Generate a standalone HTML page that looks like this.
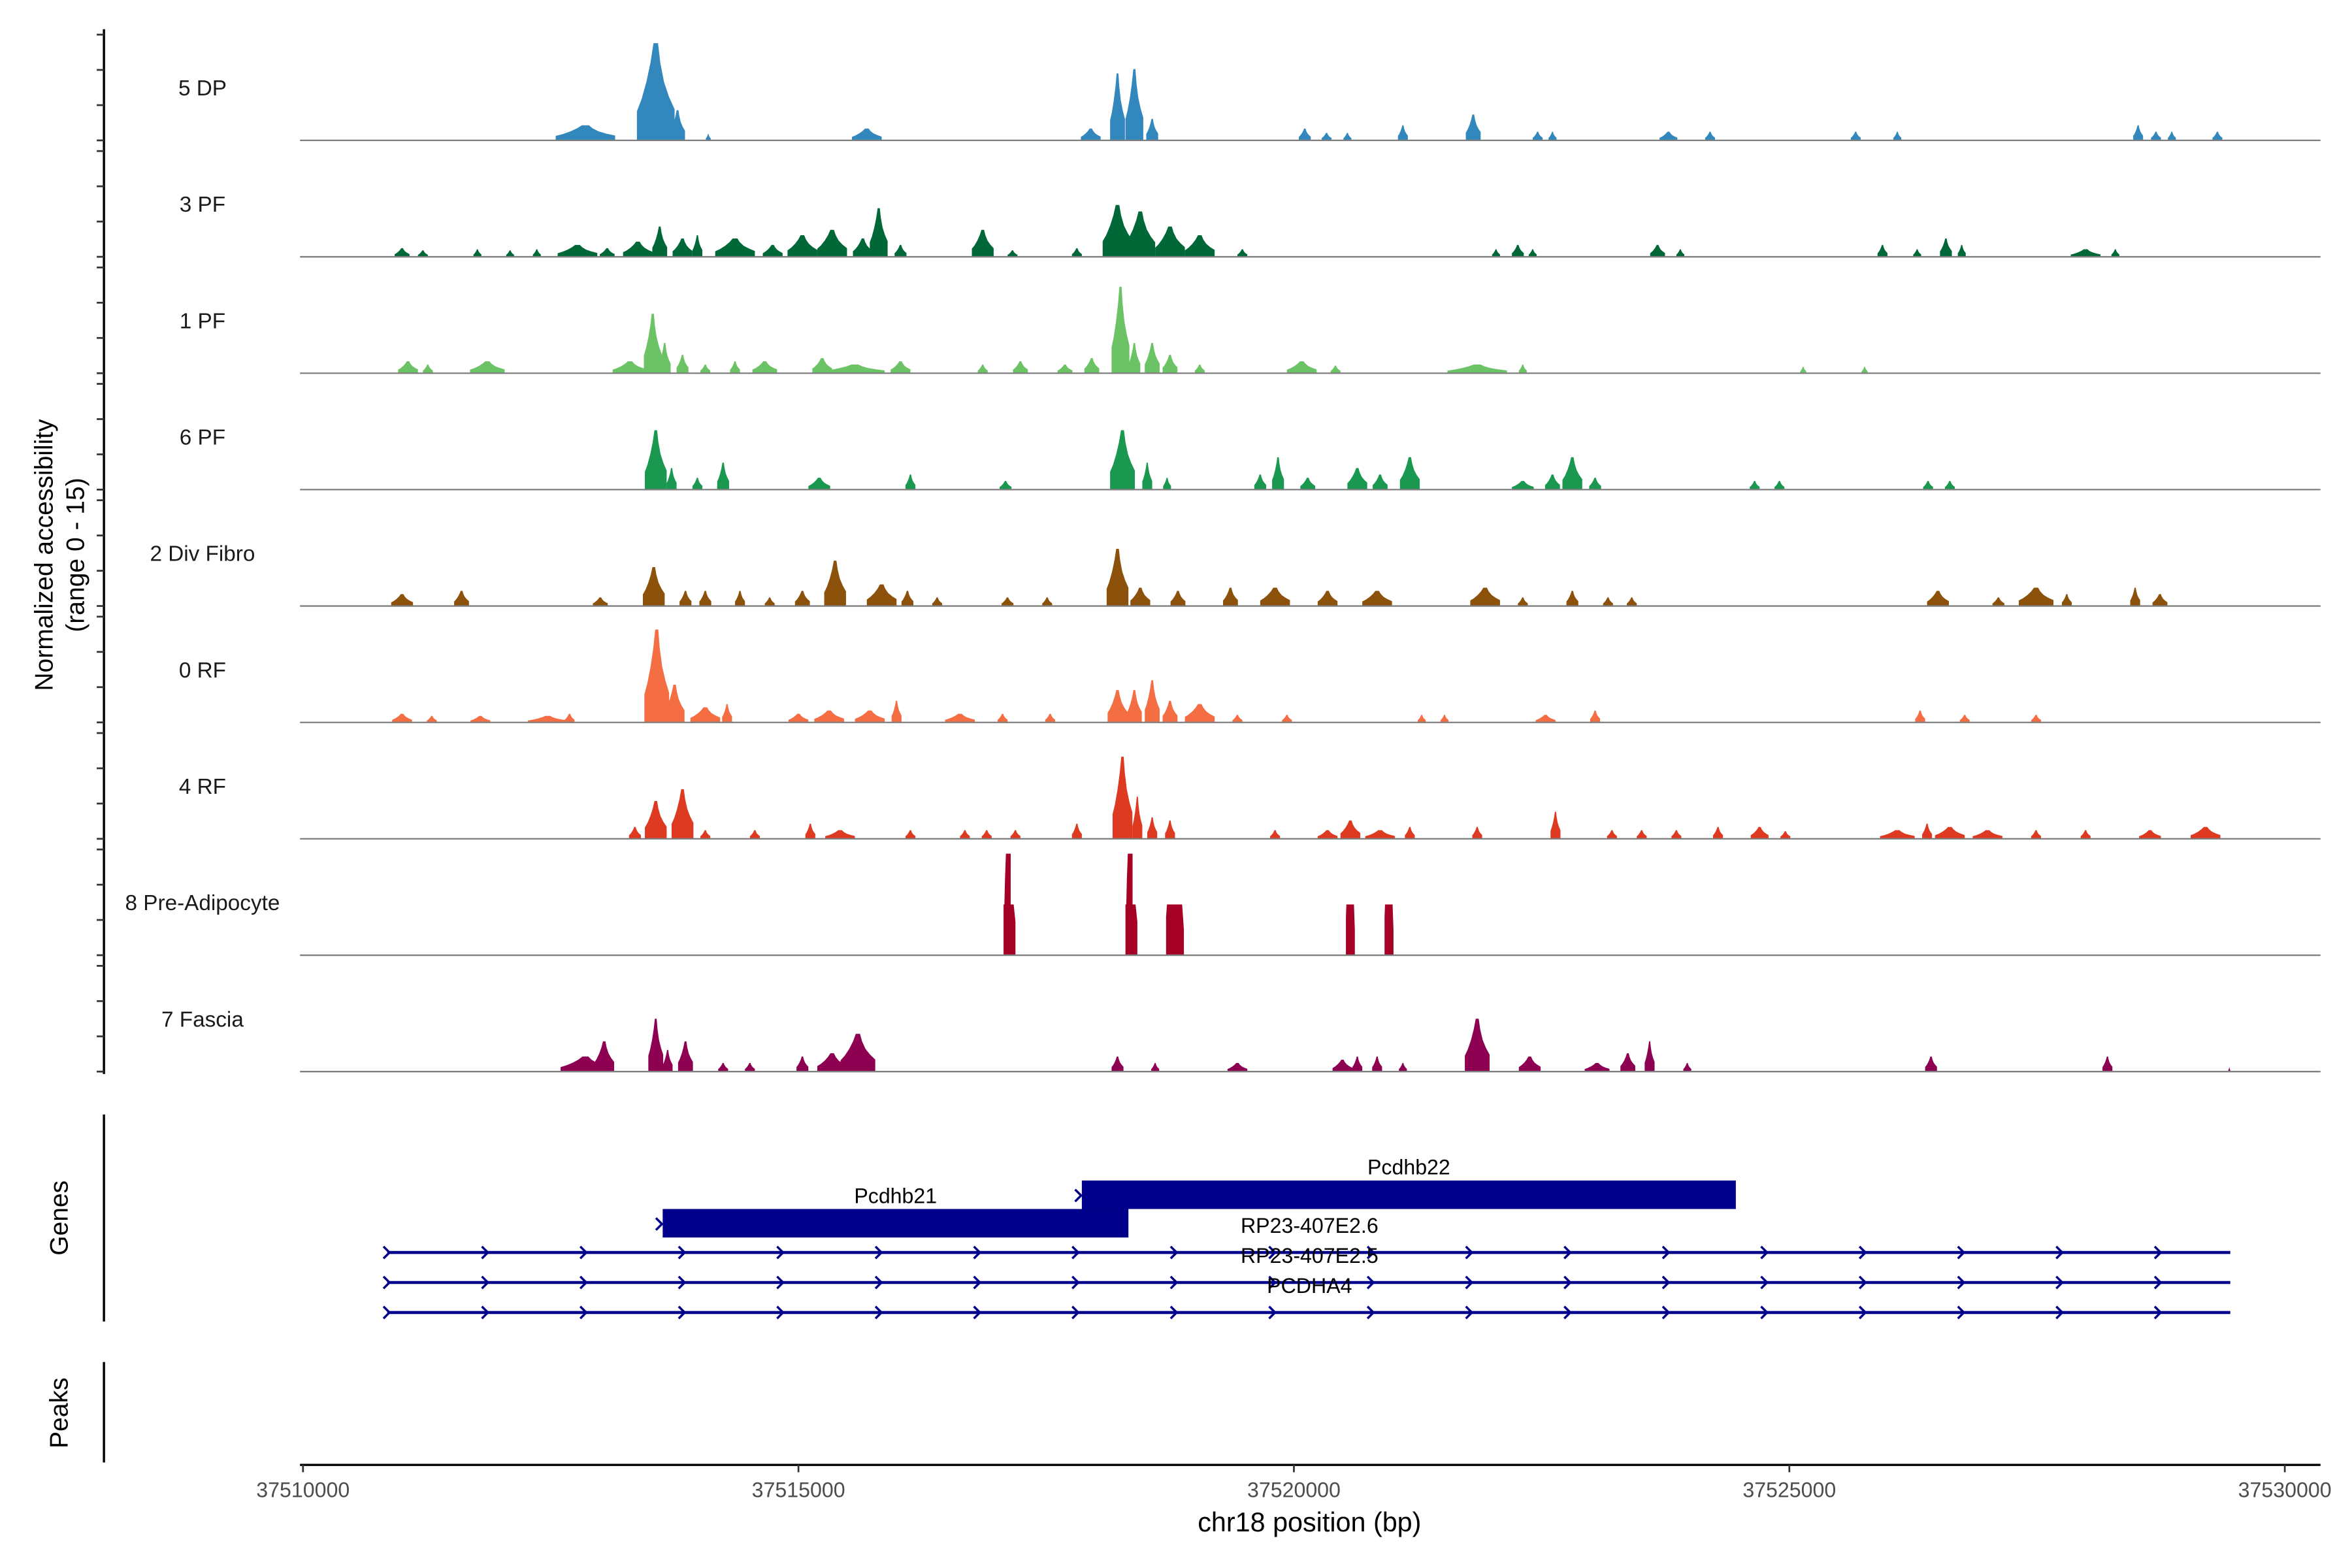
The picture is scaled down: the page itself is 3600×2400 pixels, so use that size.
<!DOCTYPE html>
<html><head><meta charset="utf-8"><style>
html,body{margin:0;padding:0;background:#fff;}
svg{display:block;font-family:"Liberation Sans",Arial,sans-serif;}
</style></head><body>
<svg id="chart" width="3600" height="2400" viewBox="0 0 1568 1045.33" xmlns="http://www.w3.org/2000/svg">
<g id="tracks"></g>
<g id="axes"></g>
<g id="genes"></g>
</svg>
<script>
// ---- data ----
const trackNames = ["5 DP","3 PF","1 PF","6 PF","2 Div Fibro","0 RF","4 RF","8 Pre-Adipocyte","7 Fascia"];
const trackColors = ["#3288bd","#006837","#6cc366","#1a9850","#8c510a","#f46d43","#de3a22","#a50026","#8e0152"];
// peaks: [offset kb from 37510000, height fraction of track, width kb]
const peaks5DP = [[2.85,.14,.6],[3.56,.9,.38],[3.78,.28,.15],[4.09,.06,.05],[5.69,.11,.3],[7.95,.11,.2],[8.22,.62,.15],[8.39,.66,.18],[8.57,.2,.12],[10.11,.11,.12],[10.33,.07,.1],[10.54,.07,.08],[11.10,.14,.1],[11.81,.24,.15],[12.46,.08,.1],[12.61,.08,.08],[13.78,.08,.18],[14.2,.08,.1],[15.67,.08,.1],[16.09,.08,.08],[18.52,.14,.1],[18.70,.08,.1],[18.86,.08,.08],[19.32,.08,.1]];
const peaks3PF = [[1.0,.08,.15],[1.21,.06,.1],[1.76,.07,.08],[2.09,.06,.08],[2.36,.07,.08],[2.77,.11,.4],[3.07,.08,.15],[3.38,.14,.3],[3.6,.28,.15],[3.83,.17,.2],[3.98,.2,.1],[4.36,.17,.4],[4.74,.11,.2],[5.04,.2,.3],[5.34,.25,.3],[5.65,.17,.2],[5.81,.45,.18],[6.03,.11,.12],[6.86,.25,.22],[7.16,.06,.1],[7.81,.08,.1],[8.22,.48,.3],[8.45,.42,.3],[8.75,.28,.3],[9.05,.2,.3],[9.48,.07,.1],[12.04,.07,.08],[12.26,.11,.12],[12.41,.07,.08],[13.67,.11,.15],[13.9,.07,.08],[15.94,.11,.1],[16.29,.07,.08],[16.58,.17,.12],[16.74,.11,.08],[17.99,.07,.3],[18.29,.07,.08]];
const peaks1PF = [[1.06,.11,.2],[1.26,.08,.1],[1.86,.11,.35],[3.3,.11,.35],[3.53,.55,.18],[3.65,.28,.12],[3.83,.17,.12],[4.06,.08,.1],[4.36,.11,.1],[4.66,.11,.25],[5.24,.14,.2],[5.57,.08,.6],[6.03,.11,.2],[6.86,.08,.1],[7.24,.11,.15],[7.69,.08,.15],[7.96,.14,.15],[8.25,.8,.18],[8.39,.28,.12],[8.57,.28,.15],[8.75,.17,.15],[9.05,.08,.1],[10.08,.11,.3],[10.42,.07,.1],[11.85,.08,.6],[12.31,.08,.08],[15.14,.06,.06],[15.76,.06,.06]];
const peaks6PF = [[3.56,.55,.22],[3.72,.2,.1],[3.98,.11,.1],[4.24,.25,.12],[5.21,.11,.22],[6.13,.14,.1],[7.09,.08,.12],[8.27,.55,.25],[8.52,.25,.1],[8.72,.11,.08],[9.66,.14,.12],[9.84,.3,.12],[10.14,.11,.15],[10.64,.2,.2],[10.87,.14,.15],[11.17,.3,.2],[12.31,.08,.22],[12.61,.14,.15],[12.81,.3,.2],[13.04,.11,.12],[14.65,.08,.1],[14.9,.08,.1],[16.4,.08,.1],[16.62,.08,.1]];
const peaks2Div = [[1.0,.11,.22],[1.6,.14,.15],[3.0,.08,.15],[3.54,.36,.22],[3.86,.14,.12],[4.06,.14,.12],[4.41,.14,.1],[4.71,.08,.1],[5.04,.14,.15],[5.37,.42,.22],[5.84,.2,.3],[6.1,.14,.12],[6.4,.08,.1],[7.11,.08,.12],[7.51,.08,.1],[8.22,.53,.22],[8.45,.17,.2],[8.83,.14,.15],[9.36,.17,.15],[9.81,.17,.3],[10.34,.14,.2],[10.84,.14,.3],[11.93,.17,.3],[12.31,.08,.1],[12.81,.14,.12],[13.17,.08,.1],[13.41,.08,.1],[16.5,.14,.22],[17.11,.08,.12],[17.49,.17,.35],[17.8,.11,.1],[18.49,.17,.1],[18.74,.11,.15]];
const peaks0RF = [[1.0,.08,.2],[1.3,.06,.1],[1.79,.06,.2],[2.47,.06,.4],[2.69,.08,.1],[3.57,.86,.25],[3.75,.35,.2],[4.06,.14,.3],[4.28,.17,.1],[5.0,.08,.2],[5.31,.11,.3],[5.72,.11,.3],[5.99,.2,.1],[6.63,.08,.3],[7.06,.08,.1],[7.54,.08,.1],[8.22,.3,.2],[8.39,.3,.15],[8.57,.39,.15],[8.75,.2,.15],[9.05,.17,.3],[9.43,.07,.1],[9.93,.07,.1],[11.29,.07,.08],[11.52,.07,.08],[12.54,.07,.2],[13.04,.11,.1],[16.32,.11,.1],[16.77,.07,.1],[17.49,.07,.1]];
const peaks4RF = [[3.35,.11,.12],[3.56,.35,.22],[3.83,.46,.22],[4.06,.08,.1],[4.56,.08,.1],[5.12,.14,.1],[5.42,.08,.3],[6.13,.08,.1],[6.68,.08,.1],[6.9,.08,.1],[7.19,.08,.1],[7.81,.14,.1],[8.27,.76,.2],[8.42,.39,.1],[8.57,.2,.1],[8.75,.17,.1],[9.81,.08,.1],[10.34,.08,.2],[10.57,.17,.2],[10.87,.08,.3],[11.17,.11,.1],[11.85,.11,.1],[12.64,.25,.1],[13.21,.08,.1],[13.51,.08,.1],[13.86,.08,.1],[14.28,.11,.1],[14.7,.11,.18],[14.96,.07,.1],[16.09,.08,.35],[16.39,.14,.1],[16.62,.11,.3],[17.0,.08,.3],[17.49,.08,.1],[17.99,.08,.1],[18.64,.08,.22],[19.2,.11,.3]];
const peaks8Pre = [[7.13,.94,.12],[8.36,.94,.12],[8.8,.47,.18],[10.57,.47,.09],[10.96,.47,.09]];
const peaks7Fas = [[2.85,.14,.5],[3.04,.28,.2],[3.56,.49,.15],[3.68,.2,.1],[3.86,.28,.15],[4.24,.08,.1],[4.51,.08,.1],[5.04,.14,.12],[5.34,.17,.3],[5.6,.35,.35],[8.22,.14,.12],[8.6,.08,.08],[9.43,.08,.2],[10.49,.11,.2],[10.64,.14,.1],[10.84,.14,.1],[11.1,.08,.08],[11.85,.49,.25],[12.38,.14,.22],[13.06,.08,.25],[13.37,.17,.15],[13.59,.28,.1],[13.97,.08,.08],[16.43,.14,.12],[18.21,.14,.1],[19.44,.04,.02]];
const trackPeaks = [peaks5DP,peaks3PF,peaks1PF,peaks6PF,peaks2Div,peaks0RF,peaks4RF,peaks8Pre,peaks7Fas];
const xTicks = [37510000,37515000,37520000,37525000,37530000];
// genes
const geneNames = ["Pcdhb22","Pcdhb21","RP23-407E2.6","RP23-407E2.5","PCDHA4"];
const geneStarts = [37517860,37513630,37510850,37510850,37510850];
const geneEnds = [37524460,37518330,37529450,37529450,37529450];

// ---- scales ----
const X0=202, PXPERBP=330.3/5000, BP0=37510000;
const xs = bp => X0 + (bp-BP0)*PXPERBP;
const TRACK_TOP=20, TRACK_H=77.6, FULL_H=72;
const baseY = i => TRACK_TOP + 73.6 + i*TRACK_H;
const hs = f => f*FULL_H;

const NS="http://www.w3.org/2000/svg";
function mk(tag, attrs, parent){const e=document.createElementNS(NS,tag);for(const k in attrs)e.setAttribute(k,attrs[k]);parent.appendChild(e);return e;}
const gT=document.getElementById('tracks'), gA=document.getElementById('axes'), gG=document.getElementById('genes');

const profile=[[-.5,0],[-.5,.3],[-.38,.42],[-.25,.6],[-.14,.8],[-.06,1],[.06,1],[.12,.8],[.22,.6],[.35,.45],[.5,.32],[.5,0]];
trackNames.forEach((name,i)=>{
  const by=baseY(i);
  const g=mk('g',{},gT);
  
  
  const lbl=mk('text',{x:135,y:by-30,'text-anchor':'middle','font-size':14.5,fill:'#1a1a1a'},g);
  lbl.textContent=name;
  
  
  trackPeaks[i].forEach(p=>{
    const c=BP0+p[0]*1000, w=p[2]*1000, h=hs(p[1]);
    let pts;
    if(i===7){
      const l=xs(c-w/2), r=xs(c+w/2), W=r-l;
      if(p[1]>0.6){
        pts=[[l,by],[l,by-.5*h],[l+.07*W,by-.5*h],[l+.12*W,by-.75*h],[l+.2*W,by-h],[l+.6*W,by-h],[l+.6*W,by-.5*h],[l+.85*W,by-.5*h],[r,by-.33*h],[r,by]];
      } else {
        pts=[[l,by],[l,by-.75*h],[l+.05*W,by-h],[r-.1*W,by-h],[r-.05*W,by-.75*h],[r,by-.5*h],[r,by]];
      }
      pts=pts.map(q=>q[0].toFixed(2)+','+q[1].toFixed(2)).join(' ');
    } else {
      pts=profile.map(q=>`${xs(c+q[0]*w).toFixed(2)},${(by-q[1]*h).toFixed(2)}`).join(' ');
    }
    const pk=mk('polygon',{points:pts,fill:trackColors[i]},g);
    
    
  });
  const bl=mk('line',{x1:200,x2:1547,y1:by,y2:by,stroke:'#7f7f7f','stroke-width':1},g);
  
  
});

// left axis
const la=mk('line',{x1:69.3,x2:69.3,y1:19.5,y2:716,stroke:'#000','stroke-width':1.5},gA);


for(let i=0;i<9;i++){for(let j=0;j<4;j++){const y=TRACK_TOP+3.1+i*TRACK_H+j*23.5;mk('line',{x1:64.5,x2:69.3,y1:y,y2:y,stroke:'#333','stroke-width':1.2},gA);}}
const yt=mk('text',{transform:'translate(35,370) rotate(-90)','text-anchor':'middle','font-size':17,fill:'#000'},gA);


yt.innerHTML='<tspan x="0" dy="0">Normalized accessibility</tspan><tspan x="0" dy="21">(range 0 - 15)</tspan>';
[[743,881,'Genes',812],[908,975,'Peaks',942]].forEach(a=>{
  const l=mk('line',{x1:69.3,x2:69.3,y1:a[0],y2:a[1],stroke:'#000','stroke-width':1.5},gA);
  
  
  const t=mk('text',{transform:`translate(45,${a[3]}) rotate(-90)`,'text-anchor':'middle','font-size':17,fill:'#000'},gA);
  t.textContent=a[2];
  
  
});
// x axis
const xa=mk('line',{x1:200,x2:1547,y1:976.6,y2:976.6,stroke:'#000','stroke-width':1.5},gA);


xTicks.forEach(v=>{
  const x=xs(v);
  mk('line',{x1:x,x2:x,y1:976.6,y2:981.5,stroke:'#333','stroke-width':1.2},gA);
  const t=mk('text',{x:x,y:998,'text-anchor':'middle','font-size':14,fill:'#4d4d4d'},gA);
  t.textContent=v;
  
  
});
const xt=mk('text',{x:873,y:1021,'text-anchor':'middle','font-size':18,fill:'#000'},gA);
xt.textContent='chr18 position (bp)';



// genes
const BLUE='#00008b';
function chevron(x,y,g){mk('polyline',{points:`${x-2.5},${y-4} ${x+1.5},${y} ${x-2.5},${y+4}`,fill:'none',stroke:BLUE,'stroke-width':1.5},g);}
const boxRows=[{y:787,h:19,ly:783},{y:806,h:19,ly:802}];
const lineRows=[835,855,875];
geneNames.forEach((n,i)=>{
  const g=mk('g',{},gG);
  
  
  const x1=xs(geneStarts[i]), x2=xs(geneEnds[i]);
  if(i<2){
    const r=boxRows[i];
    mk('rect',{x:x1,y:r.y,width:x2-x1,height:r.h,fill:BLUE},g);
    chevron(x1-2,r.y+10,g);
    const t=mk('text',{x:(x1+x2)/2,y:r.ly,'text-anchor':'middle','font-size':14,fill:'#000'},g);
    t.textContent=n;
    
    
  } else {
    const y=lineRows[i-2];
    mk('line',{x1:x1,x2:x2,y1:y,y2:y,stroke:BLUE,'stroke-width':2},g);
    for(let x=x1;x<=x2+1;x+=65.6) chevron(x,y,g);
    const t=mk('text',{x:873,y:y-13,'text-anchor':'middle','font-size':14,fill:'#000'},g);
    t.textContent=n;
    
    
  }
});
</script>
</body></html>
